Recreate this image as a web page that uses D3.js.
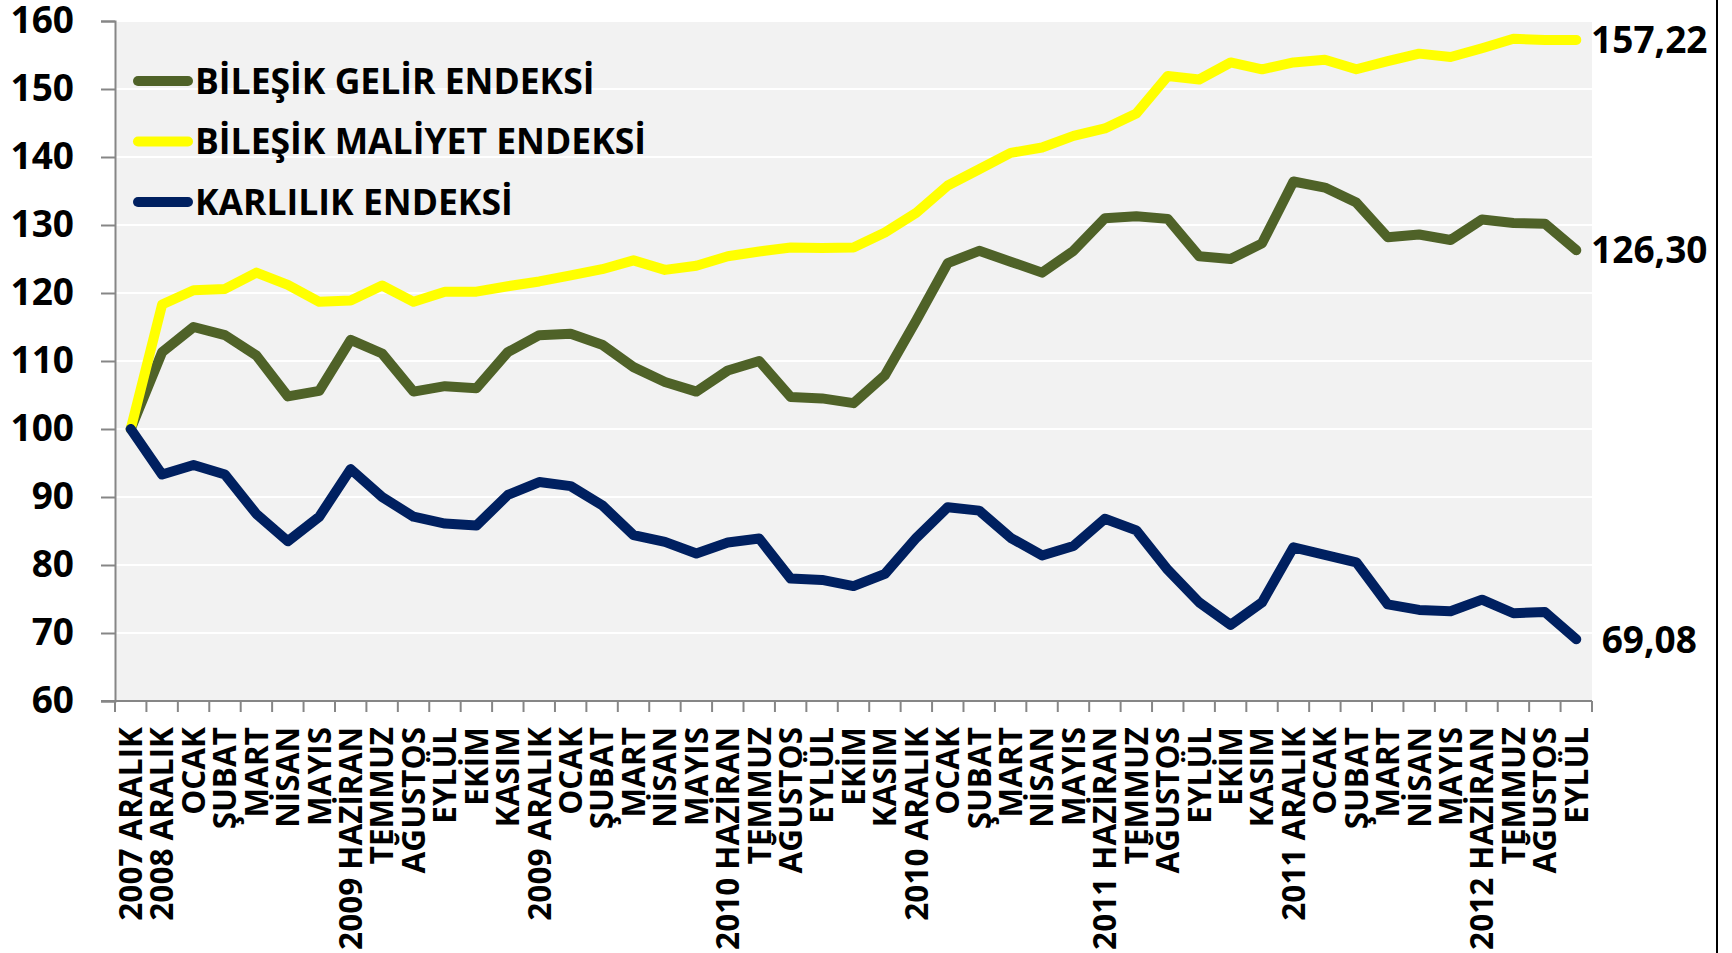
<!DOCTYPE html>
<html>
<head>
<meta charset="utf-8">
<script src="https://cdn.jsdelivr.net/npm/d3@7"></script>
<style>
  body { margin: 0; background: #fff; }
  text { font-family: "Open Sans", sans-serif; font-weight: bold; fill: #000; }
</style>
</head>
<body>
<script>
const categories = ['2007 ARALIK', '2008 ARALIK', 'OCAK', 'ŞUBAT', 'MART', 'NİSAN', 'MAYIS',
  '2009 HAZİRAN', 'TEMMUZ', 'AĞUSTOS', 'EYLÜL', 'EKİM', 'KASIM',
  '2009 ARALIK', 'OCAK', 'ŞUBAT', 'MART', 'NİSAN', 'MAYIS',
  '2010 HAZİRAN', 'TEMMUZ', 'AĞUSTOS', 'EYLÜL', 'EKİM', 'KASIM',
  '2010 ARALIK', 'OCAK', 'ŞUBAT', 'MART', 'NİSAN', 'MAYIS',
  '2011 HAZİRAN', 'TEMMUZ', 'AĞUSTOS', 'EYLÜL', 'EKİM', 'KASIM',
  '2011 ARALIK', 'OCAK', 'ŞUBAT', 'MART', 'NİSAN', 'MAYIS',
  '2012 HAZİRAN', 'TEMMUZ', 'AĞUSTOS', 'EYLÜL'];

const gelir = [100, 111.3, 115.0, 113.8, 110.8, 104.8, 105.6, 113.1, 111.1, 105.5, 106.3, 106.0,
  111.3, 113.8, 114.0, 112.4, 109.1, 106.9, 105.5, 108.6, 110.0, 104.7, 104.5, 103.8,
  107.9, 116.0, 124.4, 126.2, 124.6, 123.0, 126.2, 131.0, 131.3, 130.9, 125.4, 125.0,
  127.3, 136.4, 135.5, 133.3, 128.2, 128.6, 127.8, 130.8, 130.3, 130.2, 126.30];

const maliyet = [100, 118.3, 120.4, 120.6, 123.0, 121.2, 118.7, 118.9, 121.1, 118.7, 120.2, 120.2,
  121.0, 121.7, 122.6, 123.5, 124.8, 123.4, 124.0, 125.4, 126.1, 126.7, 126.6, 126.7,
  128.9, 131.8, 135.8, 138.2, 140.6, 141.4, 143.1, 144.2, 146.4, 151.9, 151.4, 153.9,
  152.9, 153.9, 154.3, 152.9, 154.1, 155.2, 154.7, 156.0, 157.4, 157.2, 157.22];

const karlilik = [100, 93.3, 94.7, 93.3, 87.5, 83.5, 87.1, 94.1, 90.0, 87.1, 86.1, 85.8,
  90.3, 92.2, 91.6, 88.8, 84.4, 83.4, 81.7, 83.3, 83.9, 78.0, 77.8, 76.9,
  78.7, 84.0, 88.5, 88.0, 84.0, 81.4, 82.8, 86.8, 85.1, 79.3, 74.5, 71.2,
  74.5, 82.6, 81.5, 80.4, 74.2, 73.4, 73.2, 74.9, 72.9, 73.1, 69.08];

const seriesNames = ['BİLEŞİK GELİR ENDEKSİ', 'BİLEŞİK MALİYET ENDEKSİ', 'KARLILIK ENDEKSİ'];
const seriesColors = ['#4f6228', '#ffff00', '#002060'];
const endLabels = ['126,30', '157,22', '69,08'];
const yTicks = [60, 70, 80, 90, 100, 110, 120, 130, 140, 150, 160];

const series = [gelir, maliyet, karlilik];

const width = 1732;
const height = 953;
const plotLeft = 115, plotRight = 1592, plotTop = 21, plotBottom = 701;

const svg = d3.select('body')
  .append('svg')
  .attr('width', width)
  .attr('height', height);

const x = d3.scaleBand()
  .domain(d3.range(categories.length))
  .range([plotLeft, plotRight])
  .paddingInner(0).paddingOuter(0);

const cx = i => x(i) + x.bandwidth() / 2;

const y = d3.scaleLinear()
  .domain([60, 160])
  .range([plotBottom, plotTop]);

// plot background
svg.append('rect')
  .attr('x', plotLeft)
  .attr('y', plotTop)
  .attr('width', plotRight - plotLeft)
  .attr('height', plotBottom - plotTop)
  .attr('fill', '#f2f2f2');

// gridlines
svg.append('g')
  .selectAll('line')
  .data(yTicks.slice(1))
  .enter()
  .append('line')
  .attr('x1', plotLeft).attr('x2', plotRight)
  .attr('y1', d => y(d)).attr('y2', d => y(d))
  .attr('stroke', '#fff')
  .attr('stroke-width', 2);

// y axis
const yAxis = d3.axisLeft(y)
  .tickValues(yTicks)
  .tickSize(14)
  .tickPadding(27);

const gy = svg.append('g')
  .attr('transform', `translate(${plotLeft}, 0)`)
  .call(yAxis);
gy.select('.domain').attr('stroke', '#868686').attr('stroke-width', 2);
gy.selectAll('.tick line').attr('stroke', '#868686').attr('stroke-width', 2);
gy.selectAll('.tick text')
  .style('font-family', '"Open Sans", sans-serif')
  .style('font-weight', 'bold')
  .style('font-size', '37px')
  .attr('fill', '#000');

// x axis line + ticks at category boundaries
const bounds = d3.range(categories.length + 1).map(i => i < categories.length ? x(i) : plotRight);
svg.append('line')
  .attr('x1', plotLeft - 14).attr('x2', plotRight)
  .attr('y1', plotBottom).attr('y2', plotBottom)
  .attr('stroke', '#868686').attr('stroke-width', 2);
svg.append('g')
  .selectAll('line')
  .data(bounds)
  .enter()
  .append('line')
  .attr('x1', d => d).attr('x2', d => d)
  .attr('y1', plotBottom).attr('y2', plotBottom + 11)
  .attr('stroke', '#868686').attr('stroke-width', 2);

// x labels
svg.append('g')
  .selectAll('text')
  .data(categories)
  .enter()
  .append('text')
  .attr('transform', (d, i) => `translate(${cx(i)}, 727) rotate(-90)`)
  .attr('text-anchor', 'end')
  .attr('dy', '0.36em')
  .style('font-size', '31.5px')
  .text(d => d);

// lines
const line = d3.line()
  .x((d, i) => cx(i))
  .y(d => y(d));

series.forEach((s, k) => {
  svg.append('path')
    .datum(s)
    .attr('d', line)
    .attr('fill', 'none')
    .attr('stroke', seriesColors[k])
    .attr('stroke-width', 10)
    .attr('stroke-linejoin', 'round')
    .attr('stroke-linecap', 'round');
});

// end labels
const last = categories.length - 1;
series.forEach((s, k) => {
  svg.append('text')
    .attr('x', cx(last) + 73)
    .attr('y', y(s[last]))
    .attr('dy', '0.36em')
    .attr('text-anchor', 'middle')
    .style('font-size', '37px')
    .text(endLabels[k]);
});

// legend
const legend = svg.append('g');
seriesNames.forEach((name, k) => {
  const ly = 81 + k * 60.5;
  legend.append('line')
    .attr('x1', 138).attr('x2', 188)
    .attr('y1', ly).attr('y2', ly)
    .attr('stroke', seriesColors[k])
    .attr('stroke-width', 10)
    .attr('stroke-linecap', 'round');
  legend.append('text')
    .attr('x', 195)
    .attr('y', ly)
    .attr('dy', '0.36em')
    .style('font-size', '35.5px')
    .text(name);
});

// right border
svg.append('line')
  .attr('x1', 1717).attr('x2', 1717)
  .attr('y1', 0).attr('y2', height)
  .attr('stroke', '#000').attr('stroke-width', 2);
</script>
</body>
</html>
